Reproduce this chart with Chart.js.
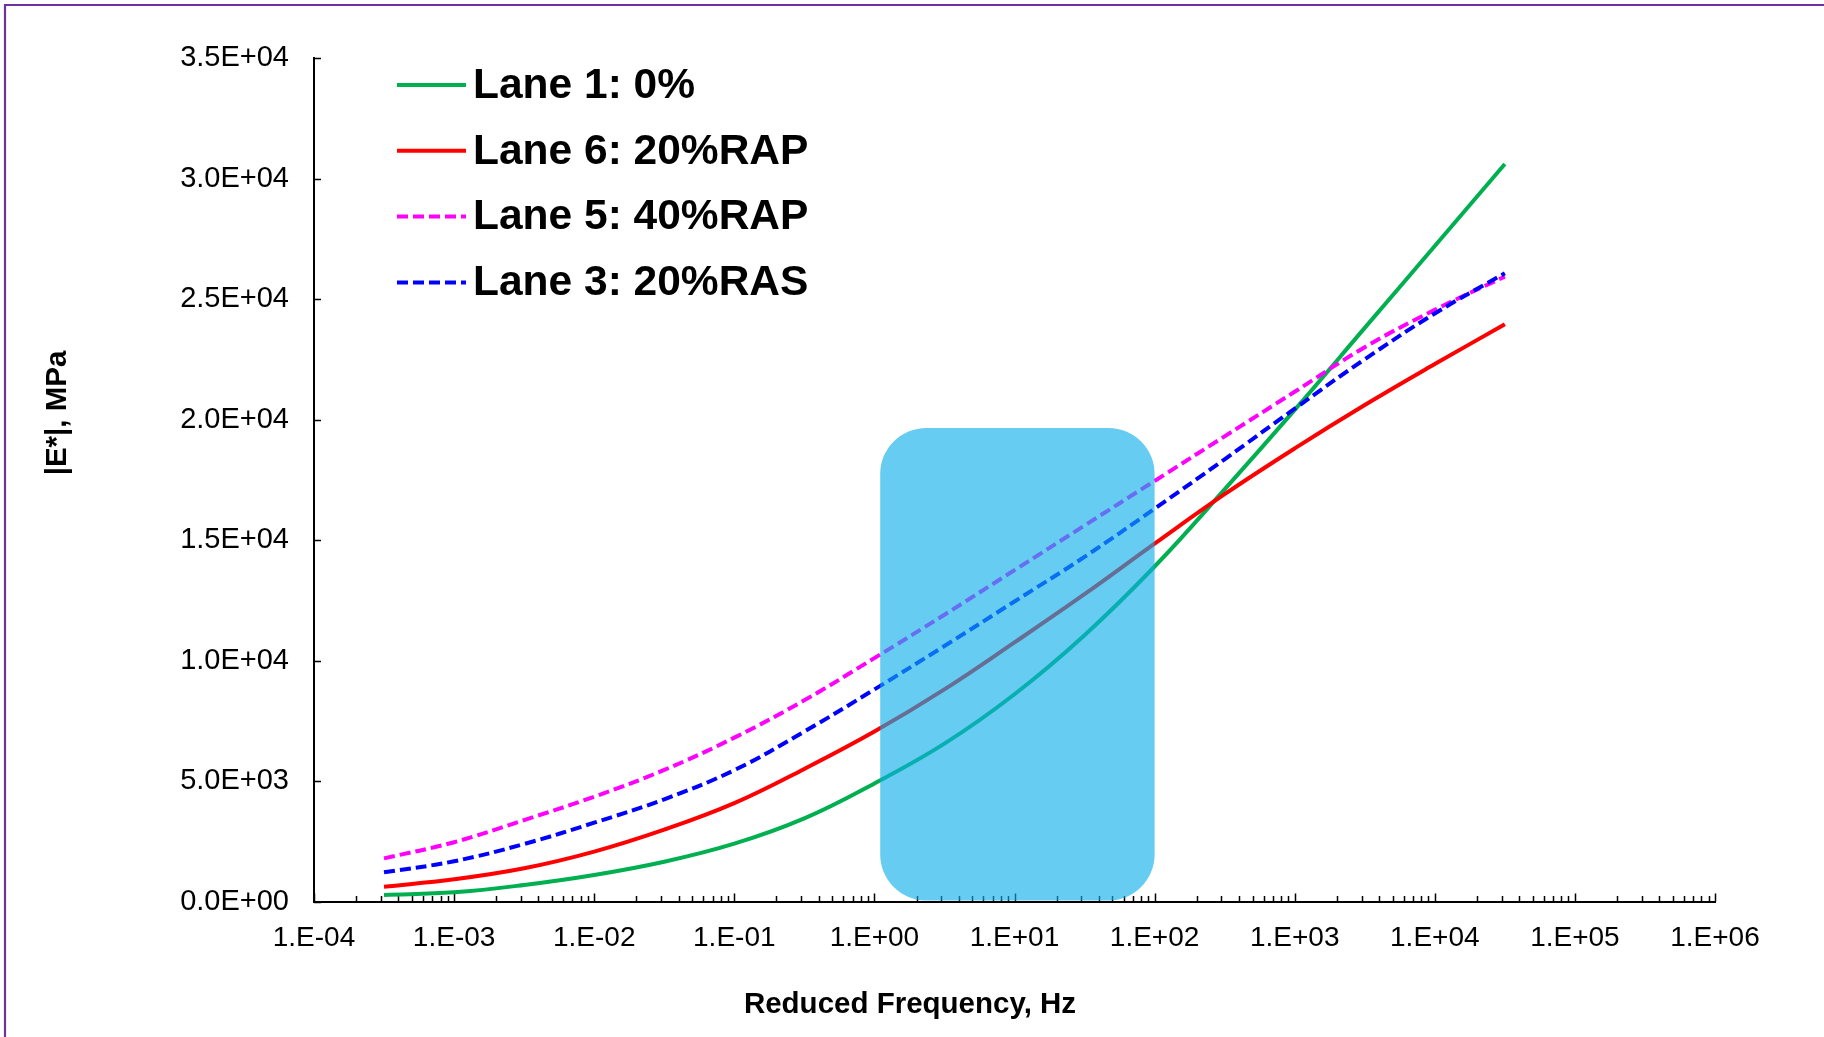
<!DOCTYPE html>
<html>
<head>
<meta charset="utf-8">
<title>Dynamic modulus master curves</title>
<script src="https://cdn.jsdelivr.net/npm/chart.js@4.4.1/dist/chart.umd.min.js"></script>
<style>
  html, body { margin: 0; padding: 0; background: #ffffff; overflow: hidden; }
  canvas { display: block; }
</style>
</head>
<body>
<canvas id="chart" width="1824" height="1037"></canvas>
<script>
// Reduced frequency (Hz) at which each master curve is tabulated
const frequencies = [3.16e-4, 1e-3, 3.16e-3, 1e-2, 3.16e-2, 1e-1, 3.16e-1, 1, 3.16, 10, 31.6, 100, 316, 1000, 3162, 10000, 31623];

// |E*| in MPa for each lane
const lane1 = [270, 380, 685, 1100, 1650, 2400, 3450, 4900, 6550, 8600, 11050, 13900, 17100, 20400, 23800, 27200, 30600];
const lane6 = [614, 920, 1378, 2070, 2980, 4080, 5500, 7050, 8800, 10750, 12750, 14850, 16900, 18800, 20600, 22300, 23950];
const lane5 = [1790, 2460, 3380, 4350, 5460, 6800, 8350, 10100, 11900, 13750, 15600, 17450, 19300, 21150, 23000, 24550, 25930];
const lane3 = [1210, 1670, 2386, 3270, 4240, 5450, 7050, 8800, 10600, 12450, 14300, 16300, 18350, 20450, 22500, 24400, 26070];

const seriesNames = ['Lane 1: 0%', 'Lane 6: 20%RAP', 'Lane 5: 40%RAP', 'Lane 3: 20%RAS'];

// Axis ticks
const xDecades = [1e-4, 1e-3, 1e-2, 1e-1, 1, 10, 100, 1000, 1e4, 1e5, 1e6];
const yTicks = [0, 5000, 10000, 15000, 20000, 25000, 30000, 35000];

// Highlighted frequency band (Hz) and its upper |E*| limit (MPa)
const bandFreq = [1.1, 100];
const bandTop = 19650;

const FONT = '"Liberation Sans", Arial, Helvetica, sans-serif';

function sciLabel(v, digits) {
  if (v === 0) return (0).toFixed(digits) + 'E+00';
  let exp = Math.floor(Math.log10(Math.abs(v)) + 1e-9);
  let mant = v / Math.pow(10, exp);
  const sign = exp < 0 ? '-' : '+';
  const e = String(Math.abs(exp)).padStart(2, '0');
  return (digits === 0 ? Math.round(mant) + '.' : mant.toFixed(digits)) + 'E' + sign + e;
}

function toPoints(ys) {
  return frequencies.map((f, i) => ({ x: f, y: ys[i] }));
}

const solid = [];
const dashed = [11, 5];

const datasets = [
  { label: seriesNames[0], data: toPoints(lane1), borderColor: '#00B050', borderDash: solid, order: 4 },
  { label: seriesNames[1], data: toPoints(lane6), borderColor: '#FF0000', borderDash: solid, order: 3 },
  { label: seriesNames[2], data: toPoints(lane5), borderColor: '#FF00FF', borderDash: dashed, order: 2 },
  { label: seriesNames[3], data: toPoints(lane3), borderColor: '#0000FF', borderDash: dashed, order: 1 }
].map(d => Object.assign(d, {
  borderWidth: 4,
  pointRadius: 0,
  pointHoverRadius: 0,
  fill: false,
  tension: 0.4,
  borderCapStyle: 'butt'
}));

// Frame around the whole figure
const framePlugin = {
  id: 'frame',
  beforeDraw(chart) {
    const ctx = chart.ctx;
    ctx.save();
    ctx.fillStyle = '#ffffff';
    ctx.fillRect(0, 0, chart.width, chart.height);
    ctx.strokeStyle = '#7030A0';
    ctx.lineWidth = 2.2;
    ctx.beginPath();
    ctx.moveTo(5, chart.height + 5);
    ctx.lineTo(5, 5);
    ctx.lineTo(chart.width + 5, 5);
    ctx.stroke();
    ctx.restore();
  }
};

// Inward tick marks (major and minor on the log axis)
const tickPlugin = {
  id: 'inwardTicks',
  beforeDatasetsDraw(chart) {
    const ctx = chart.ctx;
    const xs = chart.scales.x, ys = chart.scales.y;
    const base = ys.getPixelForValue(0);
    ctx.save();
    ctx.strokeStyle = '#000000';
    ctx.lineWidth = 1.5;
    ctx.beginPath();
    for (let d = 0; d < xDecades.length; d++) {
      const dec = xDecades[d];
      const px = Math.round(xs.getPixelForValue(dec)) + 0.5;
      ctx.moveTo(px, base);
      ctx.lineTo(px, base - 8);
      if (d < xDecades.length - 1) {
        for (let k = 2; k <= 9; k++) {
          const mx = Math.round(xs.getPixelForValue(k * dec)) + 0.5;
          ctx.moveTo(mx, base);
          ctx.lineTo(mx, base - 5.5);
        }
      }
    }
    const left = xs.left;
    yTicks.forEach(v => {
      const py = Math.round(ys.getPixelForValue(v)) + 0.5;
      ctx.moveTo(left, py);
      ctx.lineTo(left + 7, py);
    });
    ctx.stroke();
    ctx.restore();
  }
};

// Translucent rounded band over the curves
const bandPlugin = {
  id: 'band',
  afterDatasetsDraw(chart) {
    const ctx = chart.ctx;
    const xs = chart.scales.x, ys = chart.scales.y;
    const x0 = xs.getPixelForValue(bandFreq[0]);
    const x1 = xs.getPixelForValue(bandFreq[1]);
    const y0 = ys.getPixelForValue(bandTop);
    const y1 = ys.getPixelForValue(0) - 1;
    const r = 46;
    ctx.save();
    ctx.fillStyle = 'rgba(13, 175, 235, 0.63)';
    ctx.beginPath();
    ctx.roundRect(x0, y0, x1 - x0, y1 - y0, r);
    ctx.fill();
    ctx.restore();
  }
};

// Legend inside the plot and axis titles
const annotatePlugin = {
  id: 'annotate',
  afterDraw(chart) {
    const ctx = chart.ctx;
    const area = chart.chartArea;
    ctx.save();
    // legend
    const lineX0 = area.left + 83, lineX1 = area.left + 152, textX = area.left + 159;
    const rowY0 = area.top + 27, rowGap = 65.8;
    chart.data.datasets.forEach((ds, i) => {
      const y = rowY0 + i * rowGap;
      ctx.strokeStyle = ds.borderColor;
      ctx.lineWidth = ds.borderWidth;
      ctx.setLineDash(ds.borderDash);
      ctx.lineCap = 'butt';
      ctx.beginPath();
      ctx.moveTo(lineX0, y);
      ctx.lineTo(lineX1, y);
      ctx.stroke();
      ctx.setLineDash([]);
      ctx.fillStyle = '#000000';
      ctx.font = 'bold 42.5px ' + FONT;
      ctx.textAlign = 'left';
      ctx.textBaseline = 'middle';
      ctx.fillText(ds.label, textX, y + 1);
    });
    // axis titles
    ctx.fillStyle = '#000000';
    ctx.font = 'bold 29.5px ' + FONT;
    ctx.textAlign = 'center';
    ctx.textBaseline = 'middle';
    ctx.fillText('Reduced Frequency, Hz', 910, 1005);
    ctx.translate(58, 413);
    ctx.rotate(-Math.PI / 2);
    ctx.fillText('|E*|, MPa', 0, 0);
    ctx.restore();
  }
};

Chart.defaults.font.family = FONT;
Chart.defaults.color = '#000000';

new Chart(document.getElementById('chart'), {
  type: 'line',
  data: { datasets },
  options: {
    responsive: false,
    animation: false,
    devicePixelRatio: 1,
    layout: { padding: { left: 0, top: 58, right: 109, bottom: 0 } },
    plugins: { legend: { display: false }, tooltip: { enabled: false } },
    scales: {
      x: {
        type: 'logarithmic',
        min: 1e-4,
        max: 1e6,
        afterBuildTicks: s => { s.ticks = xDecades.map(v => ({ value: v })); },
        afterFit: s => { s.height = 135.5; },
        grid: { display: false, drawTicks: false },
        border: { display: true, color: '#000000', width: 2 },
        ticks: {
          autoSkip: false,
          maxRotation: 0,
          padding: 20,
          font: { size: 28 },
          color: '#000000',
          callback: v => sciLabel(v, 0)
        }
      },
      y: {
        type: 'linear',
        min: 0,
        max: 35000,
        afterBuildTicks: s => { s.ticks = yTicks.map(v => ({ value: v })); },
        afterFit: s => { s.width = 314; },
        grid: { display: false, drawTicks: false },
        border: { display: true, color: '#000000', width: 2 },
        ticks: {
          padding: 25,
          font: { size: 29 },
          color: '#000000',
          callback: v => sciLabel(v, 1)
        }
      }
    }
  },
  plugins: [framePlugin, tickPlugin, bandPlugin, annotatePlugin]
});
</script>
</body>
</html>
